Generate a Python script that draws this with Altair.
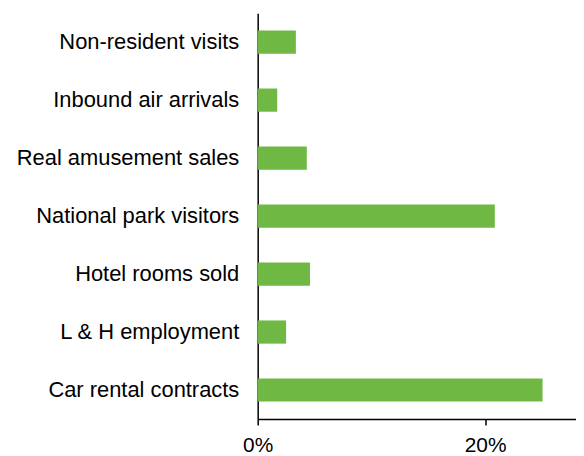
import altair as alt
import pandas as pd

categories = [
    "Non-resident visits",
    "Inbound air arrivals",
    "Real amusement sales",
    "National park visitors",
    "Hotel rooms sold",
    "L & H employment",
    "Car rental contracts",
]
values = [0.0336, 0.0172, 0.0432, 0.2086, 0.046, 0.025, 0.2506]
tick_values = [0.0, 0.2]

df = pd.DataFrame({"category": categories, "value": values})

chart = (
    alt.Chart(df)
    .mark_bar(color="#70b844")
    .encode(
        x=alt.X(
            "value:Q",
            scale=alt.Scale(domain=[0, 0.28], nice=False, clamp=True),
            axis=alt.Axis(
                values=tick_values,
                format=".0%",
                title=None,
                grid=False,
                domainColor="black",
                domainWidth=1.5,
                tickColor="black",
                tickWidth=1.5,
                tickSize=6,
                labelFont="Liberation Sans",
                labelFontSize=21,
                labelColor="black",
                labelPadding=10,
                labelFlush=False,
            ),
        ),
        y=alt.Y(
            "category:N",
            sort=categories,
            scale=alt.Scale(paddingInner=0.6, paddingOuter=0.3),
            axis=alt.Axis(
                title=None,
                ticks=False,
                domainColor="black",
                domainWidth=1.5,
                labelFont="Liberation Sans",
                labelFontSize=22,
                labelColor="black",
                labelPadding=19,
                labelLimit=400,
            ),
        ),
    )
    .properties(
        width=320,
        height=408,
        padding={"left": 8, "top": 4, "right": 0, "bottom": 0},
    )
    .configure_view(stroke=None)
)

chart.save("out.html", embed_options={"renderer": "svg", "actions": False})
